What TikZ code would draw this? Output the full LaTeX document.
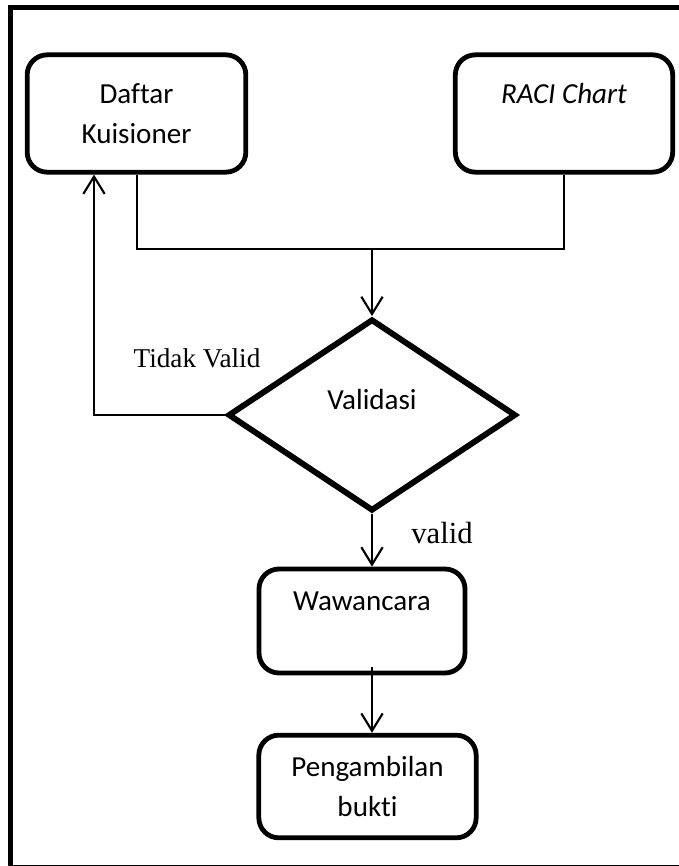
\documentclass[tikz,border=0pt]{standalone}
\usepackage{fontspec}
\setmainfont{Carlito}[Ligatures=NoCommon]
\newfontfamily\serifface{Liberation Serif}
\usetikzlibrary{shapes.geometric,arrows.meta}

\begin{document}
\begin{tikzpicture}[x=0.75pt,y=-0.75pt,
  box/.style={draw,line width=3.6pt,rounded corners=15pt,align=center,
    font=\fontsize{21.8pt}{30pt}\selectfont,inner sep=0pt},
  decision/.style={draw,diamond,line width=4.4pt,aspect=1.5,inner sep=0pt,
    minimum width=216pt,minimum height=144pt,align=center,
    font=\fontsize{21.8pt}{30pt}\selectfont},
  flow/.style={line width=1.5pt},
  tip/.style={-{Straight Barb[length=13pt,width=16pt,line width=1.6pt]}},
  lbl/.style={font=\serifface\fontsize{20.4pt}{24pt}\selectfont,inner sep=0pt}]

\useasboundingbox (0,0) rectangle (678,866);

% outer frame (its right side lies past the page edge)
\draw[line width=3.7pt] (720,7.5) -- (10.5,7.5) -- (10.5,867) -- (720,867);

% process boxes
\node[box,minimum width=164pt,minimum height=88pt] (dk) at (136.5,113.5) {Daftar\\Kuisioner};
\node[box,minimum width=163pt,minimum height=88pt] (rc) at (564,113.5) {\textit{RACI Chart}\\\mbox{}};
\node[decision] (va) at (372,415) {Validasi\\[-6pt]\mbox{}};
\node[box,minimum width=154.5pt,minimum height=78pt] (ww) at (362,621) {Wawancara\\\mbox{}};
\node[box,minimum width=163pt,minimum height=77pt] (pb) at (367.5,786.5) {Pengambilan\\bukti};

% branch labels
\node[lbl] (tv) at (197,358) {Tidak Valid};
\node[lbl,font=\serifface\fontsize{23pt}{26pt}\selectfont] (vl) at (442,533) {valid};

% helper points for the connectors
\coordinate (merge) at (372,249);
\coordinate (back) at (94,415);

% inputs join and feed the check
\draw[flow] (dk.south) |- (merge) -| (rc.south);
\draw[flow,tip] (merge) -- (va.north);

% rejected: back to the list
\draw[flow,tip] (va.west) -- (back) -- (back |- dk.south);

% accepted: interview, then evidence
\draw[flow,tip] (va.south) -- (va.south |- ww.north);
\draw[flow,tip] ([yshift=6pt]va.south |- ww.south) -- (va.south |- pb.north);
\end{tikzpicture}
\end{document}
